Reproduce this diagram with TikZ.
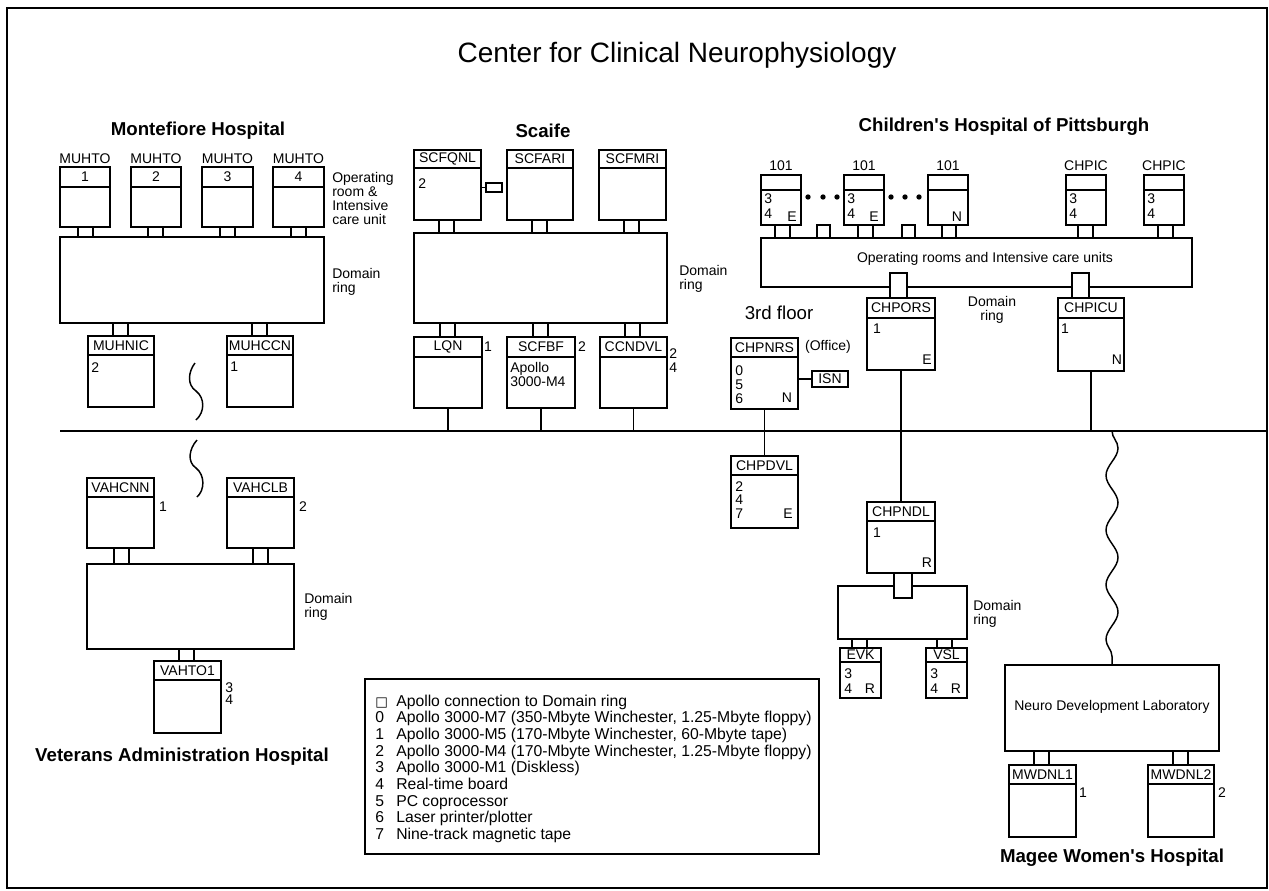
\documentclass[tikz,border=0pt]{standalone}
\usepackage{fontspec}
\setmainfont{Liberation Sans}
\newfontfamily\symfont{DejaVu Sans}
\usetikzlibrary{fit,decorations.pathmorphing}

\tikzset{
  wbox/.style={draw, inner sep=0pt, line width=1.1pt},
  portbox/.style={draw, fill=white, inner sep=0pt, line width=1.1pt},
  ringbox/.style={draw, inner sep=0pt, line width=1.1pt},
  wire/.style={line width=1.1pt},
  lbl/.style={inner sep=0pt, font=\fontsize{10.5}{10.5}\selectfont},
  body/.style={inner sep=0pt, align=left, anchor=north west, font=\fontsize{10.5}{10.5}\selectfont},
  side/.style={inner sep=0pt, align=left, anchor=north west, font=\fontsize{10.5}{10.5}\selectfont},
  hosp/.style={inner sep=0pt, font=\fontsize{14}{16}\selectfont\bfseries},
  leg/.style={inner sep=0pt, anchor=base west, font=\fontsize{11.8}{12.5}\selectfont},
}

\newcommand{\mkbox}[7]{%
  \node[wbox, fit={(#2,#3) (#4,#5)}] (#1) {};
  \draw[line width=1.1pt] (#2,#6) -- (#4,#6);
  \node[lbl] (#1-h) at ({(#2+#4)/2},{(#3+#6)/2}) {#7};
}
\newcommand{\mkport}[5]{\node[portbox, fit={(#2,#3) (#4,#5)}] (#1) {};}

\begin{document}
\begin{tikzpicture}[x=0.75pt, y=-0.75pt]
\useasboundingbox (0,0) rectangle (1269,891);
\draw[line width=1pt] (7,8) rectangle (1267,888);

\node[inner sep=0pt, font=\fontsize{21}{24}\selectfont] (title) at (677,55) {Center for Clinical Neurophysiology};

% ---------------- Montefiore ----------------
\node[hosp] (mont) at (198,131) {Montefiore Hospital};
\node[ringbox, fit={(60,237) (324,323)}] (mring) {};
\foreach \i/\xa/\xb/\pa in {1/60/110/78, 2/131/181/148, 3/202/253/220, 4/273/324/291} {
  \mkbox{muhto\i}{\xa}{167}{\xb}{227}{187}{\i}
  \node[lbl] (muhtol\i) at ({(\xa+\xb)/2},159) {MUHTO};
  \mkport{mp\i}{\pa}{227}{\pa+15}{237}
}
\node[side] (montop) at (332,172) {Operating\\room \&\\Intensive\\care unit};
\node[side] (montdr) at (332,268) {Domain\\ring};
\mkbox{muhnic}{88}{336}{154}{407}{355}{MUHNIC}
\mkport{mp5}{113}{323}{128}{336}
\node[body] (muhnicb) at (91,362) {2};
\mkbox{muhccn}{227}{336}{293}{407}{355}{MUHCCN}
\mkport{mp6}{252}{323}{267}{336}
\node[body] (muhccnb) at (230,362) {1};

% break marks
\draw[wire] (195,363) .. controls (188,372) and (187,385) .. (196,391) .. controls (205,398) and (205,412) .. (196,420);
\draw[wire] (197,440) .. controls (189,449) and (187,462) .. (196,468) .. controls (205,475) and (205,490) .. (197,497);

% ---------------- Backbone ----------------
\coordinate (bbL) at (60,431);
\coordinate (bbR) at (1267,431);
\draw[wire] (bbL) -- (bbR);

% ---------------- Scaife ----------------
\node[hosp] (scaife) at (543,131) {Scaife};
\mkbox{scfqnl}{414}{150}{481}{220}{168}{SCFQNL}
\node[body] (scfqnlb) at (418,178) {2};
\node[portbox, fit={(486,183) (502,192)}] (qport) {};
\draw[wire] (scfqnl.east |- qport.west) -- (qport.west);
\mkbox{scfari}{507}{150}{573}{220}{168}{SCFARI}
\mkbox{scfmri}{599}{150}{666}{220}{168}{SCFMRI}
\node[ringbox, fit={(414,233) (667,323)}] (sring) {};
\mkport{sp1}{439}{220}{454}{233}
\mkport{sp2}{532}{220}{547}{233}
\mkport{sp3}{624}{220}{639}{233}
\node[side] (scdr) at (679,265) {Domain\\ring};
\mkbox{lqn}{414}{337}{482}{408}{357}{LQN}
\mkbox{scfbf}{507}{337}{575}{408}{357}{SCFBF}
\mkbox{ccndvl}{600}{337}{667}{408}{357}{CCNDVL}
\mkport{sp4}{440}{323}{455}{337}
\mkport{sp5}{533}{323}{548}{337}
\mkport{sp6}{625}{323}{640}{337}
\node[lbl] (lqnn) at (488,347) {1};
\node[lbl] (scfbfn) at (582,347) {2};
\node[body] (ccndvln) at (669,348) {2\\4};
\node[body] (scfbfb) at (510,362) {Apollo\\3000-M4};
\draw[wire] (lqn.south) -- (lqn.south |- bbL);
\draw[wire] (scfbf.south) -- (scfbf.south |- bbL);
\draw[wire] (ccndvl.south) -- (ccndvl.south |- bbL);

% ---------------- Children's ----------------
\node[hosp] (chp) at (1004,127) {Children\textquotesingle s Hospital of Pittsburgh};
\node[ringbox, fit={(761,238) (1192,287)}] (cring) {};
\node[lbl] (cringt) at (985,259) {Operating rooms and Intensive care units};
\foreach \n/\xa in {a/761, b/844, c/928} {
  \mkbox{b101\n}{\xa}{175}{\xa+40}{225}{190}{}
  \node[lbl] (b101l\n) at (\xa+20,166) {101};
}
\node[body, font=\fontsize{10.5}{11.25}\selectfont] (b101ab) at (764,193) {3\\4};
\node[lbl] (b101ae) at (792,217) {E};
\node[body, font=\fontsize{10.5}{11.25}\selectfont] (b101bb) at (847,193) {3\\4};
\node[lbl] (b101be) at (874,217) {E};
\node[lbl] (b101cn) at (957,217) {N};
\foreach \x in {808,823,837,891,905,919} { \fill (\x,197) circle[radius=2pt]; }
\mkbox{chpic1}{1066}{175}{1106}{225}{190}{}
\node[lbl] (chpic1l) at (1086,166) {CHPIC};
\node[body, font=\fontsize{10.5}{11.25}\selectfont] (chpic1b) at (1069,193) {3\\4};
\mkbox{chpic2}{1144}{175}{1184}{225}{190}{}
\node[lbl] (chpic2l) at (1164,166) {CHPIC};
\node[body, font=\fontsize{10.5}{11.25}\selectfont] (chpic2b) at (1147,193) {3\\4};
\mkport{cp1}{775}{225}{790}{238}
\mkport{cp2}{858}{225}{873}{238}
\mkport{cp3}{942}{225}{956}{238}
\mkport{cp4}{1078}{225}{1093}{238}
\mkport{cp5}{1158}{225}{1173}{238}
\mkport{cp6}{817}{225}{830}{238}
\mkport{cp7}{902}{225}{915}{238}
\mkport{cp8}{890}{273}{907}{298}
\mkport{cp9}{1072}{273}{1089}{298}
\mkbox{chpors}{867}{298}{935}{370}{318}{CHPORS}
\node[lbl] (chporsn) at (877,329) {1};
\node[lbl] (chporse) at (927,360) {E};
\mkbox{chpicu}{1058}{298}{1124}{371}{318}{CHPICU}
\node[lbl] (chpicun) at (1065,329) {1};
\node[lbl] (chpicue) at (1117,360) {N};
\node[lbl, align=center] (cdr) at (992,310) {Domain\\ring};
\node[inner sep=0pt, font=\fontsize{14}{16}\selectfont] (third) at (779,313) {3rd floor};
\mkbox{chpnrs}{731}{338}{798}{409}{357}{CHPNRS}
\node[lbl] (office) at (828,347) {(Office)};
\node[body] (chpnrsb) at (735,365) {0\\5\\6};
\node[lbl] (chpnrsn) at (787,398) {N};
\node[wbox, fit={(812,371) (848,387)}] (isn) {};
\node[lbl] (isnt) at (isn.center) {ISN};
\draw[wire] (chpnrs.east |- isn.west) -- (isn.west);
\mkbox{chpdvl}{731}{456}{798}{528}{475}{CHPDVL}
\node[body, font=\fontsize{10.5}{10.2}\selectfont] (chpdvlb) at (735,481) {2\\4\\7};
\node[lbl] (chpdvle) at (788,514) {E};
\draw[wire] (chpnrs.south) -- (chpdvl.north);
\mkbox{chpndl}{867}{502}{935}{573}{521}{CHPNDL}
\node[lbl] (chpndln) at (877,533) {1};
\node[lbl] (chpndlr) at (927,563) {R};
\draw[wire] (chpors.south) -- (chpndl.north);
\draw[wire] (chpicu.south) -- (chpicu.south |- bbL);
\node[ringbox, fit={(838,586) (967,639)}] (nring) {};
\mkport{np1}{894}{573}{912}{598}
\node[side] (ndr) at (973,600) {Domain\\ring};
\mkbox{evk}{840}{648}{881}{698}{662}{EVK}
\mkbox{vsl}{926}{648}{967}{698}{662}{VSL}
\mkport{np2}{852}{639}{867}{648}
\mkport{np3}{937}{639}{952}{648}
\node[body, font=\fontsize{10.5}{11.25}\selectfont] (evkb) at (844,668) {3\\4};
\node[lbl] (evkr) at (870,689) {R};
\node[body, font=\fontsize{10.5}{11.25}\selectfont] (vslb) at (930,668) {3\\4};
\node[lbl] (vslr) at (956,689) {R};

% ---------------- Magee ----------------
\node[wbox, fit={(1005,665) (1219,751)}] (ndl) {};
\node[lbl] (ndlt) at (1112,707) {Neuro Development Laboratory};
\coordinate (wtop) at (1112,431);
\draw[wire, decorate, decoration={snake, amplitude=4.5pt, segment length=41pt}] (wtop) -- (wtop |- ndl.north);
\mkbox{mwdnl1}{1009}{765}{1076}{837}{784}{MWDNL1}
\mkbox{mwdnl2}{1148}{765}{1214}{837}{784}{MWDNL2}
\mkport{mwp1}{1034}{751}{1049}{765}
\mkport{mwp2}{1173}{751}{1188}{765}
\node[lbl] (mw1n) at (1083,793) {1};
\node[lbl] (mw2n) at (1222,793) {2};
\node[hosp] (magee) at (1112,858) {Magee Women\textquotesingle s Hospital};

% ---------------- Veterans ----------------
\mkbox{vahcnn}{87}{478}{154}{548}{497}{VAHCNN}
\mkbox{vahclb}{227}{478}{294}{548}{497}{VAHCLB}
\node[ringbox, fit={(87,564) (294,649)}] (vring) {};
\mkport{vp1}{114}{548}{129}{564}
\mkport{vp2}{253}{548}{268}{564}
\node[side] (vdr) at (304,593) {Domain\\ring};
\node[lbl] (vahcnnn) at (163,507) {1};
\node[lbl] (vahclbn) at (303,507) {2};
\mkbox{vahto1}{154}{661}{221}{733}{680}{VAHTO1}
\mkport{vp3}{179}{649}{194}{661}
\node[body, font=\fontsize{10.5}{9}\selectfont] (vahto1b) at (225,682) {3\\4};
\node[hosp] (va) at (182,757) {Veterans Administration Hospital};

% ---------------- Legend ----------------
\node[wbox, fit={(365,679) (819,854)}] (legend) {};
\foreach \k/\d [count=\i from 0] in {
  {{\symfont\fontsize{10}{10}\selectfont □}}/{Apollo connection to Domain ring},
  {0}/{Apollo 3000-M7 (350-Mbyte Winchester, 1.25-Mbyte floppy)},
  {1}/{Apollo 3000-M5 (170-Mbyte Winchester, 60-Mbyte tape)},
  {2}/{Apollo 3000-M4 (170-Mbyte Winchester, 1.25-Mbyte floppy)},
  {3}/{Apollo 3000-M1 (Diskless)},
  {4}/{Real-time board},
  {5}/{PC coprocessor},
  {6}/{Laser printer/plotter},
  {7}/{Nine-track magnetic tape}} {
  \node[leg] (legk\i) at (375,{706+16.7*\i}) {\k};
  \node[leg] (legd\i) at (396,{706+16.7*\i}) {\d};
}
\end{tikzpicture}
\end{document}
